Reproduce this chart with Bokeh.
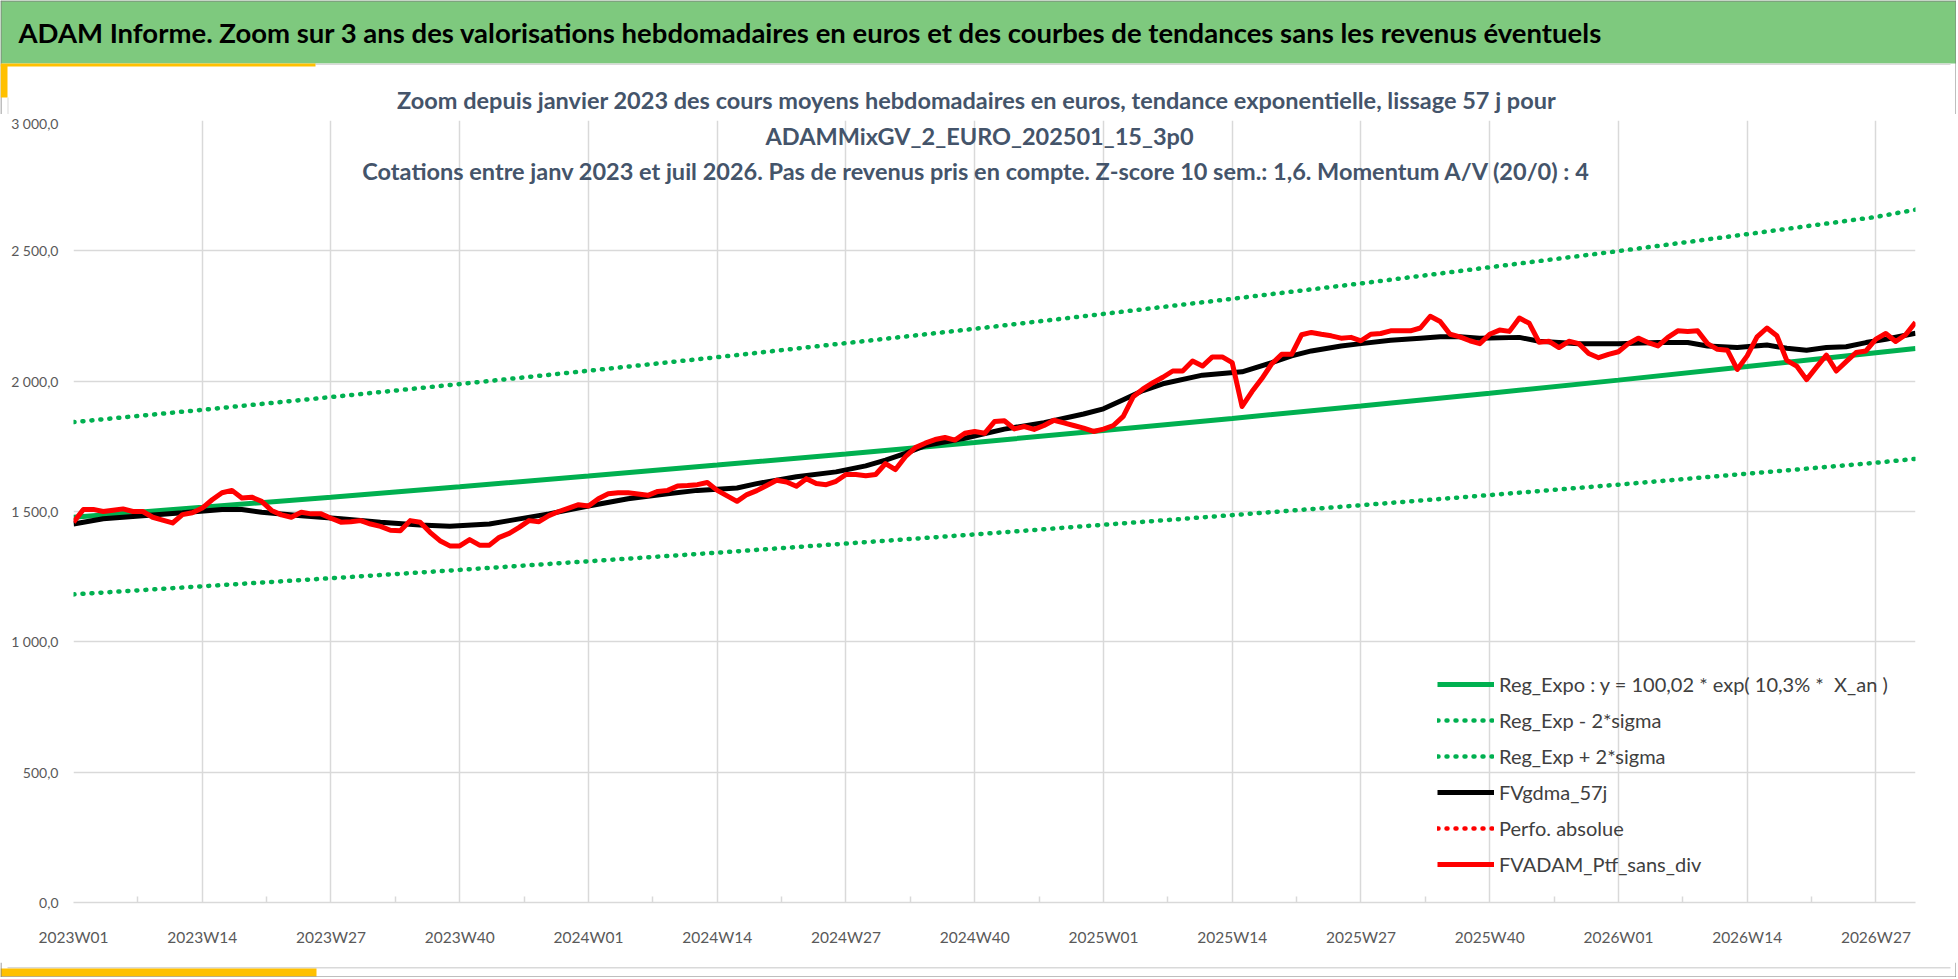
from bokeh.plotting import figure
from bokeh.layouts import column
from bokeh.models import FixedTicker, Label, BoxAnnotation, Legend, LegendItem, Range1d
from bokeh.embed import file_html
from bokeh.resources import INLINE

# weekly categories 2023W01 .. 2026W31
weeks = []
for year in (2023, 2024, 2025, 2026):
    for w in range(1, 53):
        weeks.append(f"{year}W{w:02d}")
weeks = weeks[:187]

tick_weeks = ["2023W01", "2023W14", "2023W27", "2023W40", "2024W01", "2024W14", "2024W27", "2024W40",
              "2025W01", "2025W14", "2025W27", "2025W40", "2026W01", "2026W14", "2026W27"]
y_ticks = [0, 500, 1000, 1500, 2000, 2500, 3000]
y_tick_labels = ["0,0", "500,0", "1 000,0", "1 500,0", "2 000,0", "2 500,0", "3 000,0"]

# trend curves (read every 13 weeks)
trend_weeks = tick_weeks + ["2026W31"]
reg_expo = [1478, 1516, 1555, 1595, 1636, 1678, 1721, 1765, 1811, 1857, 1905, 1954, 2004, 2056, 2109, 2125]
reg_plus = [1843, 1890, 1939, 1989, 2040, 2092, 2146, 2201, 2258, 2316, 2375, 2437, 2499, 2564, 2630, 2658]
reg_minus = [1182, 1213, 1244, 1276, 1309, 1342, 1377, 1412, 1449, 1486, 1524, 1563, 1603, 1645, 1687, 1702]

# 57 day moving average
gdma_weeks = ["2023W01", "2023W04", "2023W08", "2023W12", "2023W16", "2023W18", "2023W20", "2023W24",
              "2023W28", "2023W32", "2023W36", "2023W39", "2023W43", "2023W45", "2023W49",
              "2024W01", "2024W05", "2024W09", "2024W12", "2024W16", "2024W18", "2024W22", "2024W26",
              "2024W29", "2024W31", "2024W33", "2024W35", "2024W39", "2024W43", "2024W47", "2024W51",
              "2025W01", "2025W03", "2025W05", "2025W07", "2025W11", "2025W15", "2025W18", "2025W20",
              "2025W22", "2025W25", "2025W27", "2025W30", "2025W33", "2025W35", "2025W37", "2025W39",
              "2025W43", "2025W45", "2025W49",
              "2026W01", "2026W05", "2026W08", "2026W10", "2026W13", "2026W16", "2026W18", "2026W20",
              "2026W22", "2026W24", "2026W26", "2026W28", "2026W31"]
gdma = [1452, 1472, 1484, 1495, 1508, 1508, 1497, 1484,
        1472, 1459, 1448, 1443, 1452, 1465, 1491,
        1521, 1549, 1568, 1581, 1590, 1607, 1633, 1652,
        1675, 1697, 1723, 1753, 1781, 1816, 1841, 1874,
        1894, 1929, 1964, 1990, 2023, 2036, 2071, 2097,
        2116, 2135, 2144, 2157, 2165, 2170, 2170, 2165,
        2168, 2153, 2144,
        2144, 2148, 2148, 2135, 2129, 2139, 2126, 2119,
        2129, 2132, 2148, 2161, 2184]

# weekly portfolio value, one per week
ptf = [1459, 1508, 1508, 1500, 1505, 1510, 1500, 1500, 1478, 1467, 1456, 1488, 1495,
       1513, 1545, 1572, 1581, 1552, 1555, 1539, 1504, 1487, 1478, 1497, 1491, 1491,
       1474, 1459, 1461, 1465, 1452, 1443, 1428, 1426, 1465, 1459, 1420, 1388, 1368,
       1368, 1392, 1371, 1371, 1401, 1416, 1439, 1465, 1461, 1484, 1500, 1513, 1526,
       1521, 1549, 1568, 1572, 1572, 1567, 1562, 1577, 1581, 1598, 1600, 1603, 1611,
       1581, 1560, 1539, 1565, 1580, 1600, 1620, 1613, 1597, 1626, 1607, 1603, 1616,
       1642, 1642, 1637, 1642, 1684, 1661, 1710, 1745, 1762, 1776, 1784, 1774, 1800,
       1807, 1800, 1845, 1848, 1817, 1826, 1815, 1830, 1850, 1840, 1830, 1820, 1807,
       1816, 1830, 1865, 1940, 1970, 1994, 2015, 2039, 2039, 2077, 2058, 2093, 2093,
       2071, 1903, 1960, 2010, 2067, 2103, 2103, 2178, 2187, 2180, 2174, 2165, 2168,
       2155, 2180, 2183, 2193, 2193, 2193, 2204, 2249, 2229, 2180, 2170, 2155, 2144,
       2180, 2196, 2191, 2242, 2222, 2149, 2153, 2129, 2153, 2144, 2106, 2090, 2103,
       2113, 2144, 2165, 2148, 2135, 2168, 2193, 2191, 2193, 2144, 2122, 2119, 2045,
       2097, 2170, 2204, 2174, 2080, 2058, 2006, 2054, 2100, 2039, 2075, 2110, 2116,
       2161, 2183, 2152, 2178, 2226]

# "Perfo. absolue" has no visible values on this zoom
perfo_weeks = ["2023W01", "2023W02"]
perfo = [float("nan"), float("nan")]

pos = {w: i for i, w in enumerate(weeks)}
W = 1956
HEAD_H = 114
FONT = "Lato"
GREEN_BAR = "#7EC97E"
YELLOW = "#FFC000"
BORDER = "#7F7F7F"
BOX = "#D9D9D9"


def box(fig, left, right, top, bottom, color, units="data"):
    fig.add_layout(BoxAnnotation(left=left, right=right, top=top, bottom=bottom,
                                 left_units=units, right_units=units, top_units=units, bottom_units=units,
                                 fill_color=color, fill_alpha=1, line_color=None))


def deco_figure(h):
    f = figure(width=W, height=h, output_backend="svg", toolbar_location=None,
               x_range=Range1d(0, W), y_range=Range1d(h, 0),
               x_axis_type=None, y_axis_type=None, min_border=0)
    f.frame_align = False
    f.outline_line_color = None
    f.border_fill_color = "white"
    f.background_fill_color = "white"
    return f


# ---- header: green band + first subtitle line
head = deco_figure(HEAD_H)
box(head, 0, W, 0, 63, GREEN_BAR)
box(head, 0, W, 0, 1, BORDER)
box(head, 0, 1, 0, HEAD_H, BORDER)
box(head, W - 1, W, 0, HEAD_H, BORDER)
box(head, 315, W - 6, 63, 64.5, BOX)
box(head, 0, 315, 63, 66, YELLOW)
box(head, 0, 7, 64, 97, YELLOW)
box(head, 7, 8, 97, HEAD_H, BOX)
head.add_layout(Label(x=18, y=32,
                      text="ADAM Informe. Zoom sur 3 ans des valorisations hebdomadaires en euros et des courbes de tendances sans les revenus éventuels",
                      text_font=FONT, text_font_style="bold", text_font_size="27.5px", text_color="black",
                      text_baseline="middle", text_align="left"))

subtitle = ["Zoom depuis janvier 2023 des cours moyens hebdomadaires  en euros, tendance exponentielle, lissage 57 j pour",
            "ADAMMixGV_2_EURO_202501_15_3p0",
            "Cotations  entre janv 2023 et juil 2026. Pas de revenus pris en compte. Z-score 10 sem.: 1,6. Momentum A/V (20/0) : 4"]
SUB_STYLE = dict(text_font=FONT, text_font_style="bold", text_font_size="23.5px", text_color="#44546A",
                 text_baseline="middle", text_align="center")
head.add_layout(Label(x=979, y=99, text=subtitle[0], **SUB_STYLE))

# ---- main chart
p = figure(width=W, height=962 - HEAD_H, output_backend="svg", toolbar_location=None,
           x_range=Range1d(0, len(weeks) - 1), y_range=Range1d(0, 3000),
           min_border_left=73, min_border_right=W - 1915, min_border_top=120 - HEAD_H, min_border_bottom=60)
p.frame_align = False
p.outline_line_color = None
p.background_fill_color = "white"
p.border_fill_color = "white"

tick_idx = [pos[w] for w in tick_weeks]
p.xaxis.ticker = FixedTicker(ticks=tick_idx, minor_ticks=[t + 6.5 for t in tick_idx])
p.xaxis.major_label_overrides = {pos[w]: w for w in tick_weeks}
p.xaxis.axis_line_color = BOX
p.xaxis.axis_line_width = 1.5
p.xaxis.major_tick_line_color = None
p.xaxis.minor_tick_line_color = BOX
p.xaxis.minor_tick_line_width = 1.5
p.xaxis.minor_tick_in = 6
p.xaxis.minor_tick_out = 0
p.xaxis.major_label_standoff = 19
p.xaxis.major_label_text_font = FONT
p.xaxis.major_label_text_font_size = "15.5px"
p.xaxis.major_label_text_color = "#595959"

p.yaxis.ticker = FixedTicker(ticks=y_ticks)
p.yaxis.major_label_overrides = dict(zip(y_ticks, y_tick_labels))
p.yaxis.axis_line_color = None
p.yaxis.major_tick_line_color = None
p.yaxis.minor_tick_line_color = None
p.yaxis.major_tick_out = 0
p.yaxis.major_label_standoff = 15
p.yaxis.major_label_text_font = FONT
p.yaxis.major_label_text_font_size = "14px"
p.yaxis.major_label_text_color = "#595959"

p.xgrid.grid_line_color = BOX
p.ygrid.grid_line_color = BOX
p.xgrid.grid_line_width = 1.5
p.ygrid.grid_line_width = 1.5

tx = [pos[w] for w in trend_weeks]
dots = dict(line_width=4.5, line_dash="1 8", line_cap="round")
r_minus = p.line(tx, reg_minus, line_color="#00B050", **dots)
r_plus = p.line(tx, reg_plus, line_color="#00B050", **dots)
r_expo = p.line(tx, reg_expo, line_color="#00B050", line_width=5)
r_gdma = p.line([pos[w] for w in gdma_weeks], gdma, line_color="black", line_width=5)
r_perf = p.line([pos[w] for w in perfo_weeks], perfo, line_color="#FF0000", **dots)
r_ptf = p.line(list(range(len(ptf))), ptf, line_color="#FF0000", line_width=5, line_join="round")

legend = Legend(items=[
    LegendItem(label="Reg_Expo : y = 100,02 * exp( 10,3% *  X_an )", renderers=[r_expo]),
    LegendItem(label="Reg_Exp - 2*sigma", renderers=[r_minus]),
    LegendItem(label="Reg_Exp + 2*sigma", renderers=[r_plus]),
    LegendItem(label="FVgdma_57j", renderers=[r_gdma]),
    LegendItem(label="Perfo. absolue", renderers=[r_perf]),
    LegendItem(label="FVADAM_Ptf_sans_div", renderers=[r_ptf]),
], location=(1364, 26))
legend.background_fill_alpha = 0
legend.border_line_color = None
legend.padding = 0
legend.margin = 0
legend.spacing = 12
legend.glyph_width = 57
legend.glyph_height = 20
legend.label_height = 20
legend.label_standoff = 5
legend.label_text_font = FONT
legend.label_text_font_size = "20px"
legend.label_text_color = "#404040"
p.add_layout(legend, "center")

for k, line in enumerate(subtitle[1:]):
    p.add_layout(Label(x=979, y=135 - HEAD_H + 35 * k, x_units="canvas", y_units="canvas", text=line,
                       **SUB_STYLE))

# ---- footer: box border and yellow accent
foot = deco_figure(15)
box(foot, 7, W - 6, 4.5, 6, BOX)
box(foot, 0, 316, 6, 14, YELLOW)
box(foot, 0, 1, 0, 15, BORDER)
box(foot, W - 1, W, 0, 15, BORDER)
box(foot, 0, W, 14, 15, BORDER)

page = column(head, p, foot, spacing=0)
open("out.html", "w").write(file_html(page, INLINE))
